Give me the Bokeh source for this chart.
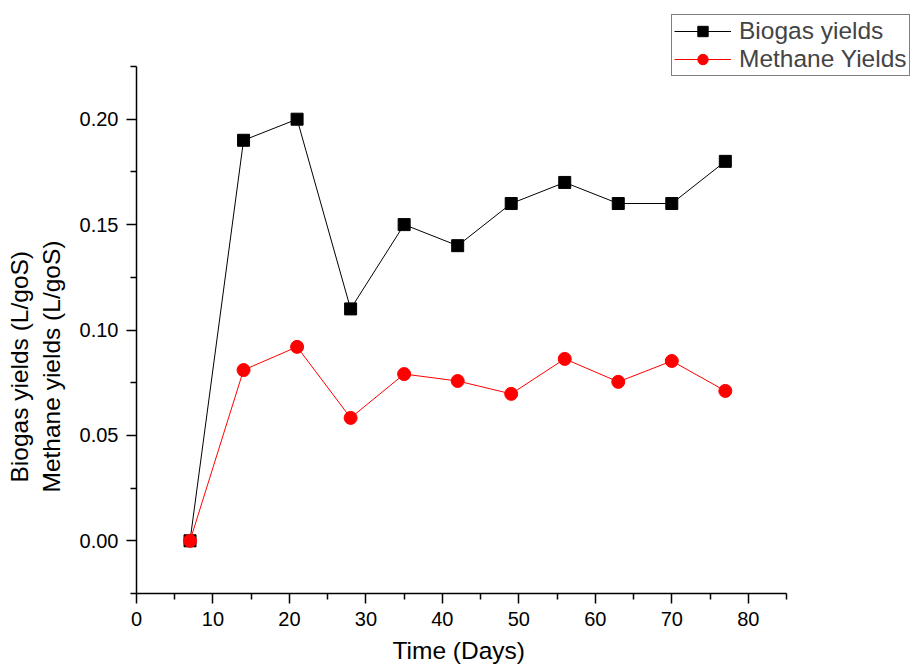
from bokeh.plotting import figure
from bokeh.models import (ColumnDataSource, FixedTicker, NumeralTickFormatter,
                          Legend, LegendItem, Title, Range1d)
from bokeh.embed import file_html
from bokeh.resources import INLINE

# ---- data ----
days = [7, 14, 21, 28, 35, 42, 49, 56, 63, 70, 77]
biogas = [0.0, 0.19, 0.20, 0.11, 0.15, 0.14, 0.16, 0.17, 0.16, 0.16, 0.18]
methane = [0.0, 0.081, 0.092, 0.0583, 0.0791, 0.0758, 0.0697, 0.0863, 0.0754, 0.0853, 0.0711]

x_major = [0, 10, 20, 30, 40, 50, 60, 70, 80]
x_minor = [5, 15, 25, 35, 45, 55, 65, 75, 85]
y_major = [0.0, 0.05, 0.10, 0.15, 0.20]
y_minor = [-0.025, 0.025, 0.075, 0.125, 0.175, 0.225]
x_axis_span = (0, 85)
y_axis_span = (-0.025, 0.225)

FONT = "Liberation Sans"
TITLE_SIZE = "24.5px"

W, H = 913, 672
L, B = 136, 79
AX_W, AX_H = 650, 527          # drawn axis lengths in px
frame_w, frame_h = W - L, H - B
x_end = x_axis_span[0] + frame_w * (x_axis_span[1] - x_axis_span[0]) / AX_W
y_end = y_axis_span[0] + frame_h * (y_axis_span[1] - y_axis_span[0]) / AX_H

p = figure(width=W, height=H, output_backend="svg", toolbar_location=None,
           x_range=Range1d(x_axis_span[0], x_end), y_range=Range1d(y_axis_span[0], y_end),
           min_border_left=L, min_border_right=0, min_border_top=0, min_border_bottom=B)
p.outline_line_color = None
p.xgrid.visible = False
p.ygrid.visible = False

src = ColumnDataSource(dict(x=days, b=biogas, m=methane))

bl = p.line("x", "b", source=src, color="black", line_width=1)
bs = p.scatter("x", "b", source=src, marker="square", size=12, color="black")
ml = p.line("x", "m", source=src, color="#ff0000", line_width=1)
ms = p.scatter("x", "m", source=src, marker="circle", size=13, color="#ff0000")

for ax in (p.xaxis[0], p.yaxis[0]):
    ax.axis_line_width = 1.5
    ax.major_tick_line_width = 1.5
    ax.minor_tick_line_width = 1.5
    ax.major_tick_in = 0
    ax.major_tick_out = 10
    ax.minor_tick_in = 0
    ax.minor_tick_out = 6
    ax.major_label_text_font = FONT
    ax.major_label_text_font_size = "20px"
    ax.major_label_text_color = "black"
    ax.major_label_standoff = 8

p.xaxis[0].ticker = FixedTicker(ticks=x_major, minor_ticks=x_minor)
p.yaxis[0].ticker = FixedTicker(ticks=y_major, minor_ticks=y_minor)
p.xaxis[0].bounds = x_axis_span
p.yaxis[0].bounds = y_axis_span
p.yaxis[0].formatter = NumeralTickFormatter(format="0.00")

# x axis title (placed under the drawn axis, not the wider frame)
p.add_layout(Title(text="Time (Days)", align="left", offset=256, standoff=12,
                   vertical_align="bottom", text_font=FONT, text_font_size=TITLE_SIZE,
                   text_font_style="normal", text_color="black"), "below")

# y axis title: two vertical titles on the left side
for txt, off, so in (("Methane yields (L/goS)", 101, 24), ("Biogas yields (L/goS)", 111, -18)):
    p.add_layout(Title(text=txt, align="left", offset=off, standoff=so,
                       text_font=FONT, text_font_size=TITLE_SIZE,
                       text_font_style="normal", text_color="black"), "left")

legend = Legend(items=[LegendItem(label="Biogas yields", renderers=[bl, bs]),
                       LegendItem(label="Methane Yields", renderers=[ml, ms])],
                location=(535, 517))
legend.label_text_font = FONT
legend.label_text_font_size = "24.5px"
legend.label_height = 26
legend.glyph_height = 26
legend.glyph_width = 57
legend.label_standoff = 8
legend.spacing = 0
legend.padding = 2
legend.margin = 0
legend.border_line_color = "black"
legend.border_line_width = 1
legend.background_fill_alpha = 1
p.add_layout(legend, "center")

open("out.html", "w").write(file_html(p, INLINE))
